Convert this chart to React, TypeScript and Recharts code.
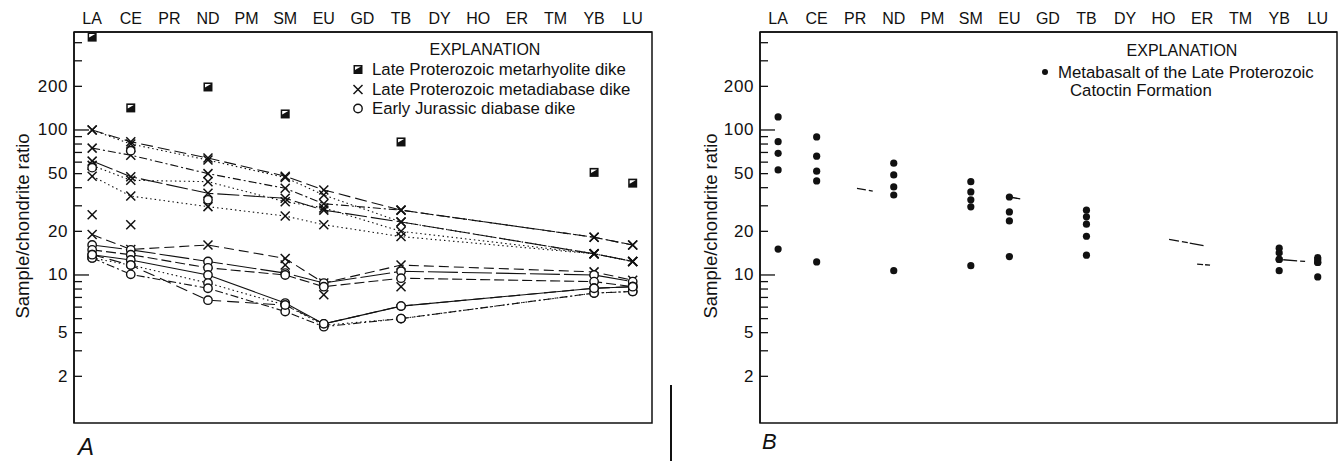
import React from "react";
import { ComposedChart, Line, XAxis, YAxis, ReferenceArea } from "recharts";

const ELEMENTS = ["LA", "CE", "PR", "ND", "PM", "SM", "EU", "GD", "TB", "DY", "HO", "ER", "TM", "YB", "LU"];
const ELEMENT_TICKS = ELEMENTS.map((_, i) => i);
const Y_TICKS = [2, 3, 4, 5, 6, 7, 8, 9, 10, 20, 30, 40, 50, 60, 70, 80, 90, 100, 200, 300, 400];
// the printed figure puts its "5" label on the 4 tick, kept as drawn
const Y_TICK_LABELS: Record<number, string> = { 2: "2", 4: "5", 10: "10", 20: "20", 50: "50", 100: "100", 200: "200" };
const X_DOMAIN: [number, number] = [-0.47, 14.5];
const Y_DOMAIN: [number, number] = [0.953, 474];

const n = null;

// Panel A - metarhyolite dike
const METARHYOLITE = [437, 142, n, 198, n, 129, n, n, 82.7, n, n, n, n, 51, 43];

// Panel A - metadiabase dikes
const METADIABASE_1 = [100, 83, n, 64, n, 48, 38.6, n, 28, n, n, n, n, 18.2, 16.1];
const METADIABASE_2 = [100, 80, n, 62, n, 47, 35.6, n, 23.2, n, n, n, n, 14, 12.4];
const METADIABASE_3 = [75, 67, n, 50, n, 39.6, 31, n, 28, n, n, n, n, 18.2, 16.1];
const METADIABASE_4 = [61, 47.6, n, 36.6, n, 33.8, 28, n, 23.2, n, n, n, n, 14, 12.4];
const METADIABASE_5 = [57, 45, n, 44, n, 32, 29, n, 20, n, n, n, n, 14, 12.4];
const METADIABASE_6 = [48, 35, n, 29.6, n, 25.5, 22.2, n, 18.4, n, n, n, n, 14, 12.4];
const METADIABASE_7 = [19, 15, n, 16.1, n, 13, 8.8, n, 11.7, n, n, n, n, 10.5, 9.2];
const METADIABASE_8 = [26, 22.2, n, n, n, 11.7, 7.3, n, 8.3, n, n, n, n, n, n];

// Panel A - Early Jurassic diabase dikes
const DIABASE_1 = [16.1, 14.9, n, 12.4, n, 10.3, 8.8, n, 10.6, n, n, n, n, 10, 9];
const DIABASE_2 = [14.9, 13.8, n, 11.2, n, 10, 8.3, n, 9.5, n, n, n, n, 9, 8.3];
const DIABASE_3 = [13.8, 12.7, n, 10, n, 6.4, 4.6, n, 6.1, n, n, n, n, 8.1, 8.3];
const DIABASE_4 = [13.1, 11.7, n, 8.8, n, 6.2, 4.5, n, 5, n, n, n, n, 7.5, 7.7];
const DIABASE_5 = [13.1, 10.1, n, 8.1, n, 5.6, 4.4, n, 5, n, n, n, n, 7.5, 7.7];
const DIABASE_6 = [13.8, 11.7, n, 6.7, n, 6.2, 4.6, n, 6.1, n, n, n, n, 8.1, 8.3];
const DIABASE_7 = [55, 72, n, 33, n, n, n, n, n, n, n, n, n, n, n];

// Panel B - Catoctin metabasalt
const METABASALT_1 = [123, 89.5, n, 59, n, 44, 34.5, n, 28, n, n, n, n, 15.3, 13.2];
const METABASALT_2 = [83, 66, n, 49, n, 37.4, 27.2, n, 25.2, n, n, n, n, 14.2, 12.8];
const METABASALT_3 = [69, 52, n, 40.5, n, 33, 23.6, n, 22.4, n, n, n, n, 12.8, 12.2];
const METABASALT_4 = [53, 44.5, n, 35.6, n, 29.5, n, n, 18.5, n, n, n, n, 12.8, 12.2];
const METABASALT_5 = [15.1, 12.3, n, 10.7, n, 11.6, 13.4, n, 13.7, n, n, n, n, 10.7, 9.7];

const FONT = '"Liberation Sans", Arial, Helvetica, sans-serif';
const INK = "#111";

const META_SERIES = [
  { key: "m1", values: METADIABASE_1, dash: "12 5" },
  { key: "m2", values: METADIABASE_2, dash: "1.5 3" },
  { key: "m3", values: METADIABASE_3, dash: "8 3 2 3" },
  { key: "m4", values: METADIABASE_4, dash: "22 4" },
  { key: "m5", values: METADIABASE_5, dash: "1.5 3" },
  { key: "m6", values: METADIABASE_6, dash: "1.5 3" },
  { key: "m7", values: METADIABASE_7, dash: "10 5" },
  { key: "m8", values: METADIABASE_8, dash: "1 200" },
];
const DIABASE_SERIES = [
  { key: "d1", values: DIABASE_1, dash: "30 4" },
  { key: "d2", values: DIABASE_2, dash: "10 4" },
  { key: "d3", values: DIABASE_3, dash: "" },
  { key: "d4", values: DIABASE_4, dash: "1.5 3" },
  { key: "d5", values: DIABASE_5, dash: "8 3 2 3" },
  { key: "d6", values: DIABASE_6, dash: "12 6" },
  { key: "d7", values: DIABASE_7, dash: "1 400" },
];
const BASALT_SERIES = [
  { key: "b1", values: METABASALT_1 },
  { key: "b2", values: METABASALT_2 },
  { key: "b3", values: METABASALT_3 },
  { key: "b4", values: METABASALT_4 },
  { key: "b5", values: METABASALT_5 },
];
// short broken traces that survive in panel B
const BASALT_TRACES = [
  { key: "t1", values: METABASALT_4, from: 1, to: 3, dash: "0 41 9 3 4 1000" },
  { key: "t2", values: METABASALT_1, from: 6, to: 8, dash: "11 1000" },
  { key: "t3", values: METABASALT_3, from: 8, to: 13, dash: "0 84 10 3 6 2 14 1000" },
  { key: "t4", values: METABASALT_5, from: 8, to: 13, dash: "0 111 6 2 5 1000" },
  { key: "t5", values: METABASALT_3, from: 13, to: 14, dash: "0 4 14 3 5 1000" },
];

const rowsA = ELEMENTS.map((el, i) => {
  const row: any = { idx: i, el, rhy: METARHYOLITE[i] };
  META_SERIES.forEach((s) => (row[s.key] = s.values[i]));
  DIABASE_SERIES.forEach((s) => (row[s.key] = s.values[i]));
  return row;
});
const rowsB = ELEMENTS.map((el, i) => {
  const row: any = { idx: i, el };
  BASALT_SERIES.forEach((s) => (row[s.key] = s.values[i]));
  return row;
});

const PLOT_LEFT = 74;

const YTick = (props: any) => {
  const { y, payload } = props;
  const v = payload.value;
  const len = v === 10 || v === 100 ? 15 : 8;
  const label = Y_TICK_LABELS[v];
  return (
    <g>
      <line x1={PLOT_LEFT} x2={PLOT_LEFT + len} y1={y} y2={y} stroke={INK} strokeWidth={1.3} />
      {label && (
        <text x={PLOT_LEFT - 6} y={y} textAnchor="end" dominantBaseline="central" fontSize={17} letterSpacing={0.6} fontFamily={FONT} fill={INK}>
          {label}
        </text>
      )}
    </g>
  );
};

const missing = (p: any) => p.value == null || p.cy == null || isNaN(p.cy);

const CrossDot = (p: any) => {
  if (missing(p)) return <g key={`${p.dataKey}-${p.index}`} />;
  const s = 4.5;
  return (
    <g key={`${p.dataKey}-${p.index}`} stroke={INK} strokeWidth={1.5}>
      <line x1={p.cx - s} y1={p.cy - s} x2={p.cx + s} y2={p.cy + s} />
      <line x1={p.cx - s} y1={p.cy + s} x2={p.cx + s} y2={p.cy - s} />
    </g>
  );
};
const CircleDot = (p: any) => {
  if (missing(p)) return <g key={`${p.dataKey}-${p.index}`} />;
  return <circle key={`${p.dataKey}-${p.index}`} cx={p.cx} cy={p.cy} r={4.2} fill="#fff" stroke={INK} strokeWidth={1.4} />;
};
const SquareDot = (p: any) => {
  if (missing(p)) return <g key={`${p.dataKey}-${p.index}`} />;
  return (
    <g key={`${p.dataKey}-${p.index}`}>
      <rect x={p.cx - 4.5} y={p.cy - 4.5} width={9} height={9} fill={INK} />
      <polygon points={`${p.cx - 3},${p.cy + 0.5} ${p.cx + 3},${p.cy - 3} ${p.cx - 3},${p.cy - 3}`} fill="#fff" />
    </g>
  );
};
const FilledDot = (p: any) => {
  if (missing(p)) return <g key={`${p.dataKey}-${p.index}`} />;
  return <circle key={`${p.dataKey}-${p.index}`} cx={p.cx} cy={p.cy} r={3.6} fill={INK} />;
};

function PanelA() {
  return (
    <ComposedChart width={670} height={461} data={rowsA} margin={{ top: 0, right: 18, bottom: 38, left: 14 }}>
      <XAxis
        type="number"
        dataKey="idx"
        orientation="top"
        domain={X_DOMAIN}
        allowDataOverflow
        ticks={ELEMENT_TICKS}
        interval={0}
        height={32}
        tickLine={false}
        tickSize={6}
        tickMargin={2}
        axisLine={{ stroke: INK, strokeWidth: 1.5 }}
        tick={{ fontSize: 16, fill: INK, fontFamily: FONT }}
        tickFormatter={(i: number) => ELEMENTS[i]}
      />
      <YAxis
        type="number"
        scale="log"
        domain={Y_DOMAIN}
        allowDataOverflow
        ticks={Y_TICKS}
        interval={0}
        width={60}
        tickLine={false}
        axisLine={{ stroke: INK, strokeWidth: 1.5 }}
        tick={YTick}
      />
      <ReferenceArea x1={X_DOMAIN[0]} x2={X_DOMAIN[1]} y1={Y_DOMAIN[0]} y2={Y_DOMAIN[1]} fill="none" stroke={INK} strokeWidth={1.5} ifOverflow="visible" />
      {META_SERIES.map((s) => (
        <Line key={s.key} dataKey={s.key} stroke={INK} strokeWidth={1.1} strokeDasharray={s.dash} connectNulls dot={CrossDot} activeDot={false} isAnimationActive={false} />
      ))}
      {DIABASE_SERIES.map((s) => (
        <Line key={s.key} dataKey={s.key} stroke={INK} strokeWidth={1.1} strokeDasharray={s.dash} connectNulls dot={CircleDot} activeDot={false} isAnimationActive={false} />
      ))}
      <Line dataKey="rhy" stroke="none" connectNulls dot={SquareDot} activeDot={false} isAnimationActive={false} />
    </ComposedChart>
  );
}

function PanelB() {
  return (
    <ComposedChart width={652} height={461} data={rowsB} margin={{ top: 0, right: 1, bottom: 38, left: 14 }}>
      <XAxis
        type="number"
        dataKey="idx"
        orientation="top"
        domain={X_DOMAIN}
        allowDataOverflow
        ticks={ELEMENT_TICKS}
        interval={0}
        height={32}
        tickLine={false}
        tickSize={6}
        tickMargin={2}
        axisLine={{ stroke: INK, strokeWidth: 1.5 }}
        tick={{ fontSize: 16, fill: INK, fontFamily: FONT }}
        tickFormatter={(i: number) => ELEMENTS[i]}
      />
      <YAxis
        type="number"
        scale="log"
        domain={Y_DOMAIN}
        allowDataOverflow
        ticks={Y_TICKS}
        interval={0}
        width={60}
        tickLine={false}
        axisLine={{ stroke: INK, strokeWidth: 1.5 }}
        tick={YTick}
      />
      <ReferenceArea x1={X_DOMAIN[0]} x2={X_DOMAIN[1]} y1={Y_DOMAIN[0]} y2={Y_DOMAIN[1]} fill="none" stroke={INK} strokeWidth={1.5} ifOverflow="visible" />
      {BASALT_TRACES.map((t) => (
        <Line
          key={t.key}
          dataKey={(row: any) => (row.idx >= t.from && row.idx <= t.to ? t.values[row.idx] : null)}
          stroke={INK}
          strokeWidth={1.3}
          strokeDasharray={t.dash}
          connectNulls
          dot={false}
          activeDot={false}
          isAnimationActive={false}
        />
      ))}
      {BASALT_SERIES.map((s) => (
        <Line key={s.key} dataKey={s.key} stroke="none" connectNulls dot={FilledDot} activeDot={false} isAnimationActive={false} />
      ))}
    </ComposedChart>
  );
}

const txt = { fontFamily: FONT, fill: INK } as const;

export default function App() {
  return (
    <div style={{ position: "absolute", left: 0, top: 0, width: 1338, height: 461, background: "#fff", overflow: "hidden" }}>
      <div style={{ position: "absolute", left: 0, top: 0 }}>
        <PanelA />
      </div>
      <div style={{ position: "absolute", left: 686, top: 0 }}>
        <PanelB />
      </div>

      {/* panel A annotations */}
      <svg style={{ position: "absolute", left: 0, top: 0, pointerEvents: "none" }} width={670} height={461}>
        <text {...txt} x={22} y={226} transform="rotate(-90 22 226)" textAnchor="middle" dominantBaseline="central" fontSize={18.5}>
          Sample/chondrite ratio
        </text>
        <text {...txt} x={78} y={455} fontStyle="italic" fontSize={24}>A</text>
        <text {...txt} x={485} y={55} textAnchor="middle" fontSize={16}>EXPLANATION</text>
        {SquareDot({ cx: 358, cy: 69.5, value: 1, dataKey: "legend", index: 0 })}
        <text {...txt} x={372} y={75} fontSize={16.8}>Late Proterozoic metarhyolite dike</text>
        {CrossDot({ cx: 358, cy: 89.5, value: 1, dataKey: "legend", index: 1 })}
        <text {...txt} x={372} y={95} fontSize={16.8}>Late Proterozoic metadiabase dike</text>
        {CircleDot({ cx: 358, cy: 108.5, value: 1, dataKey: "legend", index: 2 })}
        <text {...txt} x={372} y={114} fontSize={16.8}>Early Jurassic diabase dike</text>
      </svg>

      {/* panel B annotations */}
      <svg style={{ position: "absolute", left: 686, top: 0, pointerEvents: "none" }} width={652} height={461}>
        <text {...txt} x={24} y={226} transform="rotate(-90 24 226)" textAnchor="middle" dominantBaseline="central" fontSize={18.5}>
          Sample/chondrite ratio
        </text>
        <text {...txt} x={76} y={449} fontStyle="italic" fontSize={22}>B</text>
        <text {...txt} x={496} y={56} textAnchor="middle" fontSize={16}>EXPLANATION</text>
        <circle cx={359} cy={72} r={3} fill={INK} />
        <text {...txt} x={372} y={78} fontSize={16.8}>Metabasalt of the Late Proterozoic</text>
        <text {...txt} x={384} y={96} fontSize={16.8}>Catoctin Formation</text>
      </svg>

      <div style={{ position: "absolute", left: 670, top: 385, width: 1.5, height: 76, background: INK }} />
    </div>
  );
}
